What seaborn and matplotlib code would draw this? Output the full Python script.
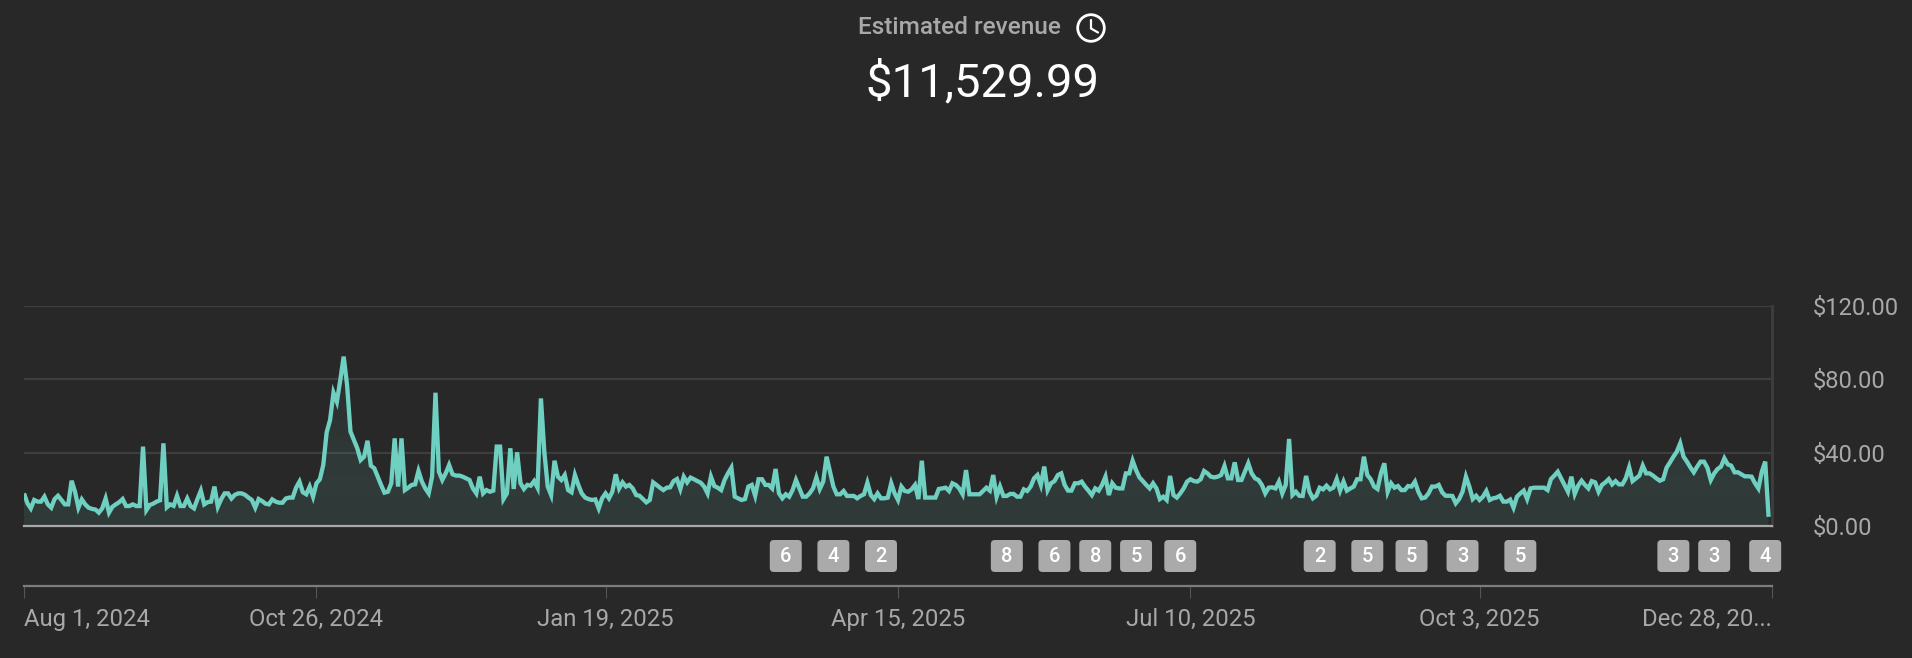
import matplotlib
matplotlib.use('Agg')
import matplotlib.pyplot as plt
import matplotlib.dates as mdates
from matplotlib.colors import LinearSegmentedColormap
from matplotlib.patches import Circle, FancyBboxPatch
import numpy as np
import pandas as pd
import seaborn as sns

# daily revenue, split by stretch of the axis
rev_aug_oct = [17.8, 12.4, 9.6, 14.2, 13.3, 13.3, 16, 11.8, 10, 14.7, 16.5, 14.2, 11.8, 11.8, 24.7, 18.7, 10, 14.5, 11.8, 10,
               9.3, 9, 7.3, 9.6, 15, 7.3, 10.5, 11.8, 13, 14.7, 10.9, 10.9, 11.8, 10.9, 10.9, 43.3, 8.7, 11.5, 12.2, 13.3,
               14, 45.1, 10.2, 11.8, 11, 16.5, 10.9, 10.9, 15, 10.9, 9.6, 14.7, 19.3, 11.8, 13, 13.3, 21.5, 10.5, 14.7, 17.8,
               17.8, 15, 17, 17.8, 17.8, 17, 15.5, 14.2, 10, 14.7, 13.6, 12.2, 11.8, 14.5, 13.3, 12.7, 12.7, 15, 15.5, 15.5,
               20.9, 24.2, 18.4, 17.3, 21.5]
rev_oct_jan = [16, 23.3, 25.5, 33.3, 51.1, 57.8, 72.7, 67.8, 79.6, 92.4, 76.9, 51.5, 46.9, 42.4, 36, 37.8, 46.5, 32.9, 31.5, 26.9,
               22.4, 18.2, 18.7, 23.3, 47.8, 21.5, 47.8, 19.6, 20.9, 22.4, 22.7, 30, 24.2, 20.5, 17.8, 26.9, 72.7, 29.6, 25.1, 28.7,
               33.3, 28.2, 27.5, 27.5, 26.9, 26, 25.1, 20.5, 17.8, 26.9, 17.8, 19.6, 18.7, 19.3, 43.3, 43.3, 14.7, 17.8, 42.4, 20.2,
               40.2, 23.3, 20.2, 22.4, 22, 24.5, 20.9, 69.6, 40.5, 21.5, 16.9, 35.6, 26.9, 25.1, 27.8, 19.6, 18.4, 27.8, 22.4, 17.8,
               15.5, 14.7, 14.2, 14.5, 9.6, 15.1, 17.8]
rev_jan_apr = [15.1, 18.7, 28.2, 20.5, 23.8, 21.5, 22.4, 20.5, 16.9, 16.5, 14.7, 12.9, 14.2, 23.8, 22.4, 20.9, 19.6, 20.9, 21.1, 24.5,
               25.6, 20.2, 26.9, 23.8, 26.4, 25.5, 24.5, 23.6, 21.5, 17.8, 26.9, 21.8, 20.9, 19.6, 25.1, 28.7, 31.8, 16, 15.1, 14.2,
               14.7, 21.5, 22.4, 16.5, 25.5, 25.5, 22.4, 22.4, 20.5, 31.1, 17.8, 15.1, 17.3, 16, 19.6, 25.1, 20.5, 16, 16, 17.8,
               20.5, 26.5, 20.2, 24.2, 37.8, 29.6, 21.5, 17.3, 17.3, 19.1, 16.4, 16.4, 16.4, 15.1, 16.4, 17.3, 23.6, 16.9, 14.7, 17.8,
               15.1, 15.1, 15.5, 23.3, 17.8, 14.2]
rev_apr_jul = [21.5, 19.1, 18.7, 20, 22.4, 14.7, 35.6, 15.5, 15.5, 15.5, 15.5, 20.2, 20.5, 20.9, 19.1, 23.3, 22.4, 20.5, 17.3, 30.5,
               17.3, 17.3, 17.3, 17.3, 19.1, 20.9, 19.3, 27.8, 16, 21.5, 16.4, 16.4, 17.5, 17.5, 16, 16, 20, 19.1, 21.5, 26,
               27.8, 22.4, 32.4, 19.6, 23.3, 24.5, 27.8, 28.7, 22.4, 19.3, 19.3, 23.3, 23.3, 24.2, 21.5, 19.3, 16.9, 20.5, 19.3, 22.4,
               26.9, 16.9, 23.3, 20.9, 20.5, 20.5, 28.7, 28.7, 35.6, 30.5, 26.5, 24.5, 22.4, 20.5, 23.3, 20.5, 14.7, 16, 14.2, 27.3,
               16.9, 15.5, 17.8, 20.5, 24.2]
rev_jul_oct = [25.5, 24.5, 24.2, 25.5, 30, 28.7, 26.9, 26.5, 26.9, 27.8, 32.7, 26, 26, 34.7, 25.1, 25.1, 29.6, 34.2, 28.7, 26,
               25.1, 22.4, 17.8, 20.9, 21.1, 20.5, 24.2, 17.8, 22.4, 47.5, 16.9, 18.7, 16.5, 16.4, 27.3, 18.7, 15.1, 16.5, 20.9, 20,
               22, 20, 20.9, 25.6, 19.3, 24.2, 19.3, 20.5, 21.5, 25.5, 25.5, 37.8, 27.8, 25.5, 21.5, 20.2, 28.7, 34.2, 18.7, 23.3,
               20.9, 21.8, 19.6, 19.6, 21.8, 21.5, 24.2, 18.7, 15.1, 15.5, 17.8, 21.5, 21.5, 22.4, 18.4, 16.5, 16.5, 16.4, 12.4, 14.7,
               18.7, 26.9, 21.5, 14.7, 16.5, 14.2]
rev_oct_dec = [16, 19.1, 14.2, 15.1, 15.5, 16.5, 13.3, 13.3, 14.4, 10, 16, 17.8, 19.3, 14.7, 20.5, 20.9, 20.9, 20.9, 20.9, 19.6,
               25.6, 27.5, 29.6, 26, 22.4, 18.7, 26.9, 17.5, 22, 24.7, 22.4, 20.5, 24.5, 23.8, 18.7, 22.4, 23.8, 25.6, 22.7, 24.5,
               22.7, 22.7, 26, 32, 24.5, 26, 27.5, 32.9, 28.7, 28.7, 27.5, 26, 24.7, 25.5, 31.8, 34.7, 37.8, 40.5, 45.1, 37.8,
               35.1, 32, 29.3, 32.4, 35.1, 35.1, 31.8, 25.1, 28.7, 31.1, 32.4, 36.9, 33.6, 32.9, 29.3, 29.3, 28.2, 27.1, 27.1, 26.9,
               23.3, 20.5, 29.6, 35.1, 5]

y_ticks = [0, 40, 80, 120]
y_tick_labels = ["$0.00", "$40.00", "$80.00", "$120.00"]
x_tick_dates = ["2024-08-01", "2024-10-26", "2025-01-19", "2025-04-15", "2025-07-10", "2025-10-03", "2025-12-28"]
x_tick_labels = ["Aug 1, 2024", "Oct 26, 2024", "Jan 19, 2025", "Apr 15, 2025", "Jul 10, 2025", "Oct 3, 2025", "Dec 28, 20..."]

# upload markers under the chart: days since Aug 1, 2024 and count
badge_days = [224, 238, 252, 289, 303, 315, 327, 340, 381, 395, 408, 423, 440, 485, 497, 512]
badge_counts = [6, 4, 2, 8, 6, 8, 5, 6, 2, 5, 5, 3, 5, 3, 3, 4]

BG = "#282828"
TEAL = "#6fcfc0"
GRID = "#3e3e3e"
MUTED = "#a8a8a8"
W, H = 1912, 658

sns.set_theme(style="dark", rc={"figure.facecolor": BG, "axes.facecolor": BG, "savefig.facecolor": BG})
plt.rcParams['font.family'] = ['Roboto', 'DejaVu Sans']

revenue = rev_aug_oct + rev_oct_jan + rev_jan_apr + rev_apr_jul + rev_jul_oct + rev_oct_dec
start = pd.Timestamp("2024-08-01")
df = pd.DataFrame({"date": pd.date_range(start, periods=len(revenue), freq="D"), "revenue": revenue})
ticks = pd.to_datetime(x_tick_dates)


def px_axes(x0, y0, x1, y1, **kw):
    # axes placed by picture pixels (y from the top)
    return fig.add_axes([x0 / W, 1 - y1 / H, (x1 - x0) / W, (y1 - y0) / H], **kw)


fig = plt.figure(figsize=(W / 100, H / 100), dpi=100)
ax = px_axes(24, 306, 1772, 526)

# gradient under the line, clipped to the area
poly = ax.fill_between(df["date"], df["revenue"], 0, color="none", linewidth=0)
cmap = LinearSegmentedColormap.from_list("area", [
    (0.0, (0.435, 0.812, 0.753, 0.10)),
    (0.25, (0.435, 0.812, 0.753, 0.12)),
    (0.65, (0.435, 0.812, 0.753, 0.07)),
    (1.0, (0.435, 0.812, 0.753, 0.03)),
])
grad = ax.imshow(np.linspace(1, 0, 256).reshape(-1, 1), cmap=cmap, aspect="auto", zorder=1.5,
                 extent=[mdates.date2num(df["date"].iloc[0]), mdates.date2num(df["date"].iloc[-1]), 0, 93])
grad.set_clip_path(poly.get_paths()[0], transform=ax.transData)

sns.lineplot(data=df, x="date", y="revenue", ax=ax, color=TEAL, linewidth=3.1, zorder=3,
             solid_joinstyle="miter", solid_capstyle="butt", errorbar=None, estimator=None)

ax.set_xlim(start, ticks[-1])
ax.set_ylim(0, 120)
ax.set_xlabel("")
ax.set_ylabel("")
ax.yaxis.tick_right()
ax.set_yticks(y_ticks, y_tick_labels, color=MUTED, fontsize=17.1)
ax.tick_params(axis="y", length=0, pad=29)
ax.grid(axis="y", color=GRID, linewidth=1.6)
ax.set_axisbelow(True)
for name in ["top", "left"]:
    ax.spines[name].set_visible(False)
ax.spines["right"].set_color(GRID)
ax.spines["right"].set_linewidth(2)
ax.spines["bottom"].set_color(MUTED)
ax.spines["bottom"].set_linewidth(1.6)
ax.spines["bottom"].set_zorder(4)

# strip with the badges and the date axis, y in pixels
strip = px_axes(24, 530, 1772, 586, sharex=ax)
strip.set_ylim(586, 530)
strip.patch.set_visible(False)
strip.grid(False)
strip.set_yticks([])
for name in ["top", "left", "right"]:
    strip.spines[name].set_visible(False)
strip.spines["bottom"].set_color("#7d7d7d")
strip.spines["bottom"].set_linewidth(1.6)
strip.set_xticks(ticks, x_tick_labels, color=MUTED, fontsize=17.2)
strip.tick_params(axis="x", length=8.6, width=0.8, color="#555555", pad=7, bottom=True)
tl = strip.get_xticklabels()
tl[0].set_ha("left")
tl[-1].set_ha("right")

# the x axis is shared, so the main axes must not draw the date labels too
ax.tick_params(axis="x", bottom=False, labelbottom=False)

badge_w = 9.4
for day, count in zip(badge_days, badge_counts):
    mid = mdates.date2num(start + pd.Timedelta(days=day))
    strip.add_patch(FancyBboxPatch((mid - badge_w / 2, 540), badge_w, 32,
                                   boxstyle="round,pad=0,rounding_size=1.2", mutation_aspect=3.4,
                                   facecolor="#aaaaaa", edgecolor="none", clip_on=False))
    strip.text(mid, 556.5, str(count), color="white", fontsize=14.5, fontweight=500,
               ha="center", va="center", clip_on=False)

# header, in an overlay with pixel coordinates
top = fig.add_axes([0, 0, 1, 1])
top.set_xlim(0, W)
top.set_ylim(H, 0)
top.axis("off")
top.text(959, 28, "Estimated revenue", color=MUTED, fontsize=17.6, fontweight=500, ha="center", va="center")
top.text(982.5, 83, "$11,529.99", color="white", fontsize=34, ha="center", va="center")
top.add_patch(Circle((1091, 28), 13.3, facecolor="none", edgecolor="white", linewidth=2))
top.plot([1091, 1091, 1098], [20, 28.5, 32.5], color="white", linewidth=1.6)

fig.savefig("out.png", dpi=100, facecolor=BG)
plt.close()
